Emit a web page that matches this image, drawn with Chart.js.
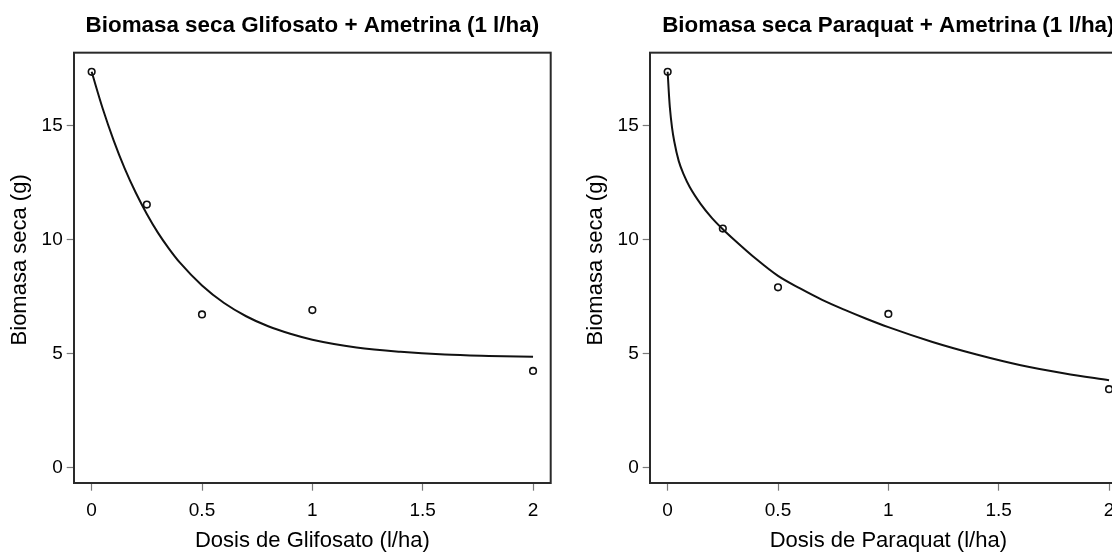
<!DOCTYPE html>
<html>
<head>
<meta charset="utf-8">
<script src="https://cdn.jsdelivr.net/npm/chart.js@4.4.1/dist/chart.umd.min.js"></script>
<style>
  html, body { margin: 0; padding: 0; background: #fff; }
  #wrap { position: relative; width: 1112px; height: 554px; overflow: hidden; background: #fff; }
  canvas { position: absolute; top: 0; }
  #c1 { left: 0; }
  #c2 { left: 576px; }
</style>
</head>
<body>
<div id="wrap">
  <canvas id="c1" width="576" height="554"></canvas>
  <canvas id="c2" width="576" height="554"></canvas>
</div>
<script>
// ---- data ----
const doses = [0, 0.25, 0.5, 1, 2];
const glifosatoBiomass = [17.36, 11.53, 6.71, 6.90, 4.23];
const paraquatBiomass = [17.36, 10.48, 7.90, 6.73, 3.43];

const glifosatoCurveDose = [0, 0.05, 0.1, 0.15, 0.2, 0.25, 0.3, 0.35, 0.4, 0.5, 0.6, 0.7, 0.8, 0.9, 1.0, 1.2, 1.4, 1.6, 1.8, 2.0];
const glifosatoCurveFit  = [17.36, 15.75, 14.34, 13.11, 12.05, 11.12, 10.30, 9.60, 8.98, 7.98, 7.21, 6.63, 6.19, 5.86, 5.60, 5.26, 5.07, 4.95, 4.89, 4.85];

const paraquatCurveDose = [0, 0.005, 0.01, 0.02, 0.03, 0.05, 0.075, 0.1, 0.15, 0.2, 0.25, 0.3, 0.4, 0.5, 0.6, 0.7, 0.8, 0.9, 1.0, 1.2, 1.4, 1.6, 1.8, 2.0];
const paraquatCurveFit  = [17.36, 16.5, 15.8, 14.9, 14.3, 13.45, 12.8, 12.3, 11.55, 10.95, 10.45, 10.0, 9.15, 8.4, 7.85, 7.35, 6.92, 6.52, 6.15, 5.5, 4.95, 4.48, 4.12, 3.82];

const xTicks = [0, 0.5, 1, 1.5, 2];
const yTicks = [0, 5, 10, 15];

const titles = ['Biomasa seca Glifosato + Ametrina (1 l/ha)', 'Biomasa seca Paraquat + Ametrina (1 l/ha)'];
const xLabels = ['Dosis de Glifosato (l/ha)', 'Dosis de Paraquat (l/ha)'];
const yLabel = 'Biomasa seca (g)';

// ---- chart construction ----
const FONT = "'Liberation Sans', Arial, Helvetica, sans-serif";

const boxPlugin = {
  id: 'rbox',
  afterDraw(chart) {
    const a = chart.chartArea, ctx = chart.ctx;
    ctx.save();
    ctx.strokeStyle = '#2a2a2a';
    ctx.lineWidth = 2;
    ctx.strokeRect(a.left, a.top, a.right - a.left, a.bottom - a.top);
    ctx.restore();
  }
};

// y-axis label, placed like the reference (slightly above the plot centre)
const yLabelPlugin = {
  id: 'ylab',
  afterDraw(chart) {
    const a = chart.chartArea, ctx = chart.ctx;
    ctx.save();
    ctx.translate(19.7, (a.top + a.bottom) / 2 - 8);
    ctx.rotate(-Math.PI / 2);
    ctx.font = "22px " + FONT;
    ctx.fillStyle = '#000';
    ctx.textAlign = 'center';
    ctx.textBaseline = 'middle';
    ctx.fillText(yLabel, 0, 0);
    ctx.restore();
  }
};

function makeChart(id, pts, cx, cy, title, xl) {
  const pointData = doses.map((d, i) => ({x: d, y: pts[i]}));
  const curveData = cx.map((d, i) => ({x: d, y: cy[i]}));
  return new Chart(document.getElementById(id), {
    type: 'scatter',
    data: {
      datasets: [
        { data: pointData, showLine: false, pointRadius: 3.3, pointHoverRadius: 3.3,
          pointBorderWidth: 1.6, borderColor: '#111', backgroundColor: 'rgba(0,0,0,0)', pointStyle: 'circle' },
        { data: curveData, showLine: true, pointRadius: 0, borderColor: '#111', borderWidth: 2,
          tension: 0.4, cubicInterpolationMode: 'monotone', fill: false }
      ]
    },
    options: {
      responsive: false, animation: false, devicePixelRatio: 1,
      layout: { padding: { left: 0, right: 25.3, top: 0, bottom: 0 } },
      plugins: {
        legend: { display: false }, tooltip: { enabled: false },
        title: { display: true, text: title, fullSize: false, color: '#000',
          font: { family: FONT, size: 22.4, weight: 'bold', lineHeight: 1.2 },
          padding: { top: 12.8, bottom: 13.0 } }
      },
      scales: {
        x: {
          type: 'linear', min: -0.08, max: 2.08,
          afterFit(s) { s.height = 71; },
          afterBuildTicks(s) { s.ticks = xTicks.map(v => ({value: v})); },
          border: { display: false },
          grid: { drawOnChartArea: false, drawTicks: true, tickLength: 7.7, tickColor: '#7a7a7a', tickWidth: 1.2 },
          ticks: { color: '#000', padding: 8.7, maxRotation: 0, font: { family: FONT, size: 19 },
                   callback: v => String(v) },
          title: { display: true, text: xl, color: '#000', padding: { top: 0, bottom: 0 },
                   font: { family: FONT, size: 22, lineHeight: 1.2 } }
        },
        y: {
          type: 'linear', min: -0.69, max: 18.2,
          afterFit(s) { s.width = 74; },
          afterBuildTicks(s) { s.ticks = yTicks.map(v => ({value: v})); },
          border: { display: false },
          grid: { drawOnChartArea: false, drawTicks: true, tickLength: 7.3, tickColor: '#7a7a7a', tickWidth: 1.2 },
          ticks: { color: '#000', padding: 4, font: { family: FONT, size: 19 },
                   callback: v => String(v) },
          title: { display: false, text: yLabel }
        }
      }
    },
    plugins: [boxPlugin, yLabelPlugin]
  });
}

makeChart('c1', glifosatoBiomass, glifosatoCurveDose, glifosatoCurveFit, titles[0], xLabels[0]);
makeChart('c2', paraquatBiomass, paraquatCurveDose, paraquatCurveFit, titles[1], xLabels[1]);
</script>
</body>
</html>
